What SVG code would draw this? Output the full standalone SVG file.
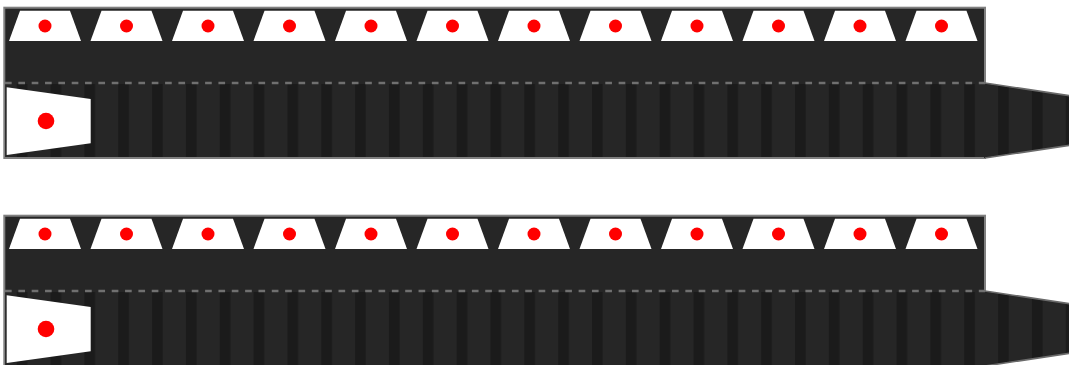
<svg xmlns="http://www.w3.org/2000/svg" width="1069" height="365" viewBox="0 0 1069 365">
<style>
.body{fill:#262626;stroke:#808080;stroke-width:2}
.stripe{fill:url(#stripes)}
.edge{fill:none;stroke:#6a6a6a;stroke-width:1.6}
.dash{stroke:#707070;stroke-width:2.3;stroke-dasharray:6.67 6.67}
.slot{fill:#ffffff}
.dot{fill:#ff0000}
</style>
<defs>
<pattern id="stripes" patternUnits="userSpaceOnUse" x="16.7" y="0" width="33.84" height="400">
<rect x="0" y="0" width="33.84" height="400" fill="#262626"/>
<rect x="0" y="0" width="10.7" height="400" fill="#1b1b1b"/>
</pattern>
<g id="slot">
<polygon class="slot" points="-25,10.7 25,10.7 36,41 -36,41"/>
<circle class="dot" cx="0" cy="26" r="6.5"/>
</g>
<g id="panel">
<rect class="body" x="4.3" y="7.7" width="980.7" height="150.3"/>
<rect class="stripe" x="5.3" y="84" width="979.7" height="73"/>
<polygon class="stripe" points="984,83 1075,96.5 1075,144.5 984,158"/>
<polyline class="edge" points="985,83 1075,96.5"/>
<polyline class="edge" points="985,158 1075,144.5"/>
<line class="dash" x1="5" y1="83" x2="985" y2="83"/>
<use href="#slot" x="45" y="0"/>
<use href="#slot" x="126.5" y="0"/>
<use href="#slot" x="208" y="0"/>
<use href="#slot" x="289.5" y="0"/>
<use href="#slot" x="371" y="0"/>
<use href="#slot" x="452.5" y="0"/>
<use href="#slot" x="534" y="0"/>
<use href="#slot" x="615.5" y="0"/>
<use href="#slot" x="697" y="0"/>
<use href="#slot" x="778.5" y="0"/>
<use href="#slot" x="860" y="0"/>
<use href="#slot" x="941.5" y="0"/>
<polygon class="slot" points="6.7,87.3 90.7,99 90.7,143.3 6.7,155"/>
<circle class="dot" cx="46" cy="121" r="8.3"/>
</g>
</defs>
<g id="tray1">
<use href="#panel"/>
</g>
<g id="tray2" transform="translate(0,208)">
<use href="#panel"/>
</g>
<g id="connectors"></g>
</svg>
